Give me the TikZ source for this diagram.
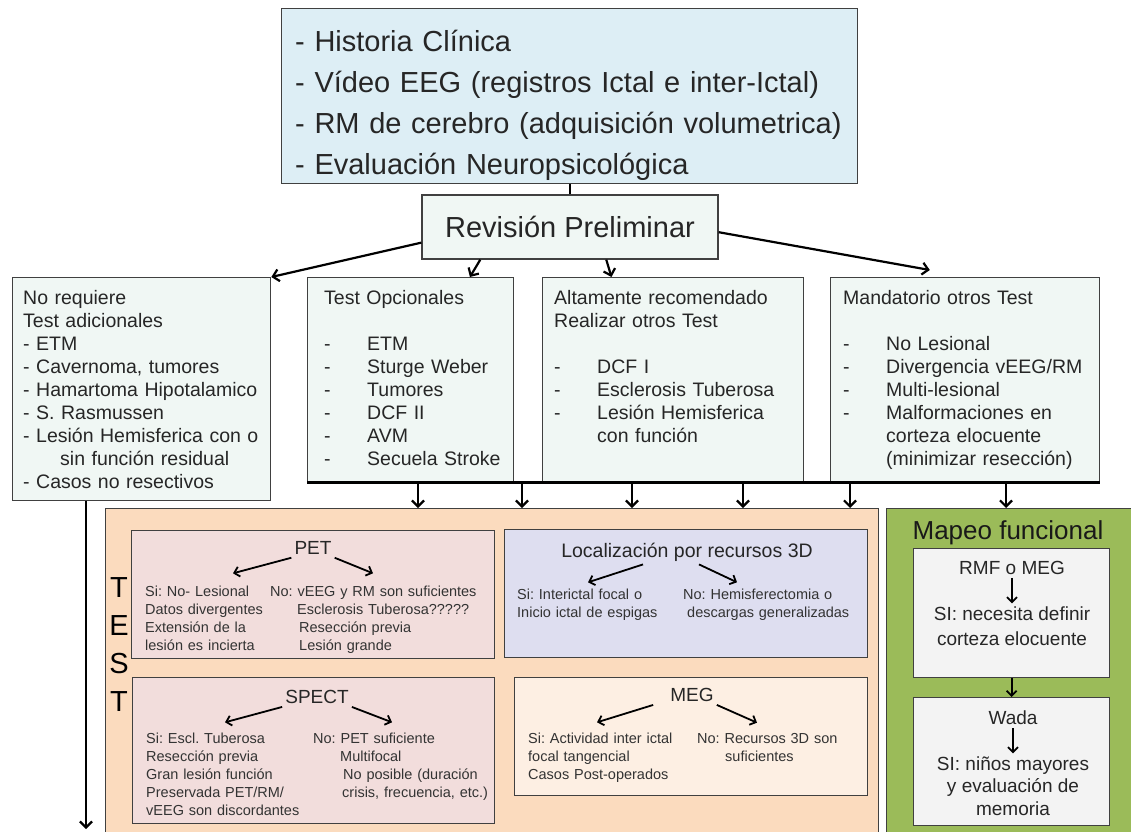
\documentclass[tikz,border=0pt]{standalone}
\usepackage{fontspec}
\setmainfont{Liberation Sans}
\usetikzlibrary{arrows.meta, positioning}
\frenchspacing

\definecolor{histblue}{RGB}{221,238,245}
\definecolor{paleteal}{RGB}{240,247,244}
\definecolor{peach}{RGB}{251,219,190}
\definecolor{rosebox}{RGB}{242,221,220}
\definecolor{lavbox}{RGB}{222,222,240}
\definecolor{creambox}{RGB}{253,239,227}
\definecolor{leafgreen}{RGB}{155,187,89}
\definecolor{softgray}{RGB}{243,243,243}
\definecolor{edge}{RGB}{64,64,64}

\newcommand{\itm}[1]{\makebox[43pt][l]{-}#1}

\begin{document}
\begin{tikzpicture}[x=1pt, y=-1pt,
    box/.style={draw=edge, line width=1.3pt, anchor=north west, inner sep=0pt},
    txt/.style={anchor=base west, inner sep=0pt, align=left, text=black!85},
    midtxt/.style={txt, font=\fontsize{19.5}{23}\selectfont},
    title/.style={inner sep=3pt, text=black!85, font=\fontsize{19}{23}\selectfont},
    note/.style={anchor=base west, inner sep=0pt, align=left, text width=215pt, text=black!80, font=\fontsize{14.5}{18}\selectfont},
    arrow/.style={-{Straight Barb[length=6pt, width=12pt]}, line width=2.2pt},
    tip/.style={-{Straight Barb[length=5pt, width=10pt]}, line width=1.8pt}
  ]
\useasboundingbox (0,0) rectangle (1131,831);

% Evaluacion inicial
\node[box, fill=histblue, minimum width=576pt, minimum height=175pt] (hist) at (281,8) {};
\node[txt, text width=560pt, font=\fontsize{29}{41}\selectfont] (histtxt) at (295,51)
  {- Historia Clínica\\- Vídeo EEG (registros Ictal e inter-Ictal)\\- RM de cerebro (adquisición volumetrica)\\- Evaluación Neuropsicológica};
\node[box, anchor=center, fill=paleteal, minimum width=296pt, minimum height=64pt, inner sep=3pt, text=black!85, font=\fontsize{29}{35}\selectfont] (rev) at (570,227) {Revisión Preliminar};
\draw[line width=1.5pt] (rev.north) -- (rev.north |- hist.south);

% Categorias
\node[box, fill=paleteal, minimum width=258pt, minimum height=223pt] (noreq) at (12,277) {};
\node[box, fill=paleteal, minimum width=206pt, minimum height=204pt] (opc) at (307,277) {};
\node[box, fill=paleteal, minimum width=261pt, minimum height=204pt] (alt) at (542,277) {};
\node[box, fill=paleteal, minimum width=269pt, minimum height=204pt] (mand) at (830,277) {};

\node[midtxt, text width=245pt] (noreqtxt) at (23,304)
  {No requiere\\Test adicionales\\- ETM\\- Cavernoma, tumores\\- Hamartoma Hipotalamico\\- S. Rasmussen\\- Lesión Hemisferica con o\\\hspace*{37pt}sin función residual\\- Casos no resectivos};
\node[midtxt, text width=185pt] (opctxt) at (324,304)
  {Test Opcionales\\[23pt]\itm{ETM}\\\itm{Sturge Weber}\\\itm{Tumores}\\\itm{DCF II}\\\itm{AVM}\\\itm{Secuela Stroke}};
\node[midtxt, text width=235pt] (alttxt) at (554,304)
  {Altamente recomendado\\Realizar otros Test\\[23pt]\itm{DCF I}\\\itm{Esclerosis Tuberosa}\\\itm{Lesión Hemisferica}\\\hspace*{43pt}con función};
\node[midtxt, text width=250pt] (mandtxt) at (843,304)
  {Mandatorio otros Test\\[23pt]\itm{No Lesional}\\\itm{Divergencia vEEG/RM}\\\itm{Multi-lesional}\\\itm{Malformaciones en}\\\hspace*{43pt}corteza elocuente\\\hspace*{43pt}(minimizar resección)};

\draw[arrow] (rev.186) -- (noreq.north east);
\draw[arrow] (rev.200) -- (opc.60);
\draw[arrow] (rev.318) -- (alt.121);
\draw[arrow] (rev.358) -- ([yshift=7pt]mand.109);

% Zonas de test
\node[box, fill=peach, minimum width=773pt, minimum height=340pt] (test) at (105,508) {};
\node[box, fill=leafgreen, minimum width=260pt, minimum height=340pt] (mapeo) at (886,508) {};

\draw[line width=2.4pt] (opc.south west) -- (mand.south east);
\foreach \x [count=\i] in {418,522,632,743,850} {
  \coordinate (drop\i) at (\x,481);
  \draw[arrow] (drop\i) -- (drop\i |- test.north);
}
\coordinate (drop6) at (1006,481);
\draw[arrow] (drop6) -- (drop6 |- mapeo.north);
\coordinate (exit) at (86,829);
\draw[arrow] (noreq.south -| exit) -- (exit);

\node[align=center, text width=30pt, anchor=base, inner sep=0pt, font=\fontsize{29}{38}\selectfont] (testlbl) at (119,597) {T\\E\\S\\T};

% PET
\node[box, fill=rosebox, minimum width=363pt, minimum height=128pt] (petbox) at (131,530) {};
\node[title] (pet) at (313,548) {PET};
\node[note] (petsi) at (145,596) {Si: No- Lesional\\Datos divergentes\\Extensión de la\\lesión es incierta};
\node[note] (petno) at (270,596) {No: vEEG y RM son suficientes\\\hspace*{27pt}Esclerosis Tuberosa?????\\\hspace*{29pt}Resección previa\\\hspace*{29pt}Lesión grande};
\draw[tip] (pet.south west) -- ([xshift=88pt, yshift=12pt]petsi.north west);
\draw[tip] (pet.south east) -- ([xshift=103pt, yshift=12pt]petno.north west);

% Localizacion 3D
\node[box, fill=lavbox, minimum width=363pt, minimum height=128pt] (locbox) at (504,529) {};
\node[title, font=\fontsize{19.5}{23}\selectfont] (loc) at (687,552) {Localización por recursos 3D};
\node[note] (locsi) at (517,599) {Si: Interictal focal o\\Inicio ictal de espigas};
\node[note] (locno) at (683,599) {No: Hemisferectomia o\\\hspace*{4pt}descargas generalizadas};
\draw[tip] ([xshift=-44pt]loc.south) -- ([xshift=71pt, yshift=6pt]locsi.north west);
\draw[tip] ([xshift=12pt]loc.south) -- ([xshift=54pt, yshift=6pt]locno.north west);

% SPECT
\node[box, fill=rosebox, minimum width=362pt, minimum height=146pt] (spectbox) at (132,677) {};
\node[title] (spect) at (317,697) {SPECT};
\node[note] (spectsi) at (146,743) {Si: Escl. Tuberosa\\Resección previa\\Gran lesión función\\Preservada PET/RM/\\vEEG son discordantes};
\node[note] (spectno) at (313,743) {No: PET suficiente\\\hspace*{27pt}Multifocal\\\hspace*{30pt}No posible (duración\\\hspace*{29pt}crisis, frecuencia, etc.)};
\draw[tip] (spect.south west) -- ([xshift=79pt, yshift=10pt]spectsi.north west);
\draw[tip] (spect.south east) -- ([xshift=79pt, yshift=10pt]spectno.north west);

% MEG
\node[box, fill=creambox, minimum width=353pt, minimum height=118pt] (megbox) at (514,677) {};
\node[title] (meg) at (692,695) {MEG};
\node[note] (megsi) at (528,743) {Si: Actividad inter ictal\\focal tangencial\\Casos Post-operados};
\node[note] (megno) at (697,743) {No: Recursos 3D son\\\hspace*{28pt}suficientes};
\draw[tip] ([xshift=-14pt]meg.south west) -- ([xshift=69pt, yshift=10pt]megsi.north west);
\draw[tip] (meg.south east) -- ([xshift=60pt, yshift=10pt]megno.north west);

% Mapeo funcional
\node[text=black!90, inner sep=0pt, font=\fontsize{26}{30}\selectfont] (mapeotitle) at (1008,533) {Mapeo funcional};
\node[box, fill=softgray, minimum width=196pt, minimum height=129pt] (rmfbox) at (913,548) {};
\node[box, fill=softgray, minimum width=196pt, minimum height=128pt] (wadabox) at (913,697) {};
\node[title] (rmf) at (1012,568) {RMF o MEG};
\node[title, align=center, font=\fontsize{19}{25}\selectfont] (nec) at (1012,626) {SI: necesita definir\\corteza elocuente};
\draw[tip] (rmf.south) -- (nec.north);
\draw[tip] (rmfbox.south) -- (wadabox.north);
\node[title] (wada) at (1013,718) {Wada};
\node[title, align=center, font=\fontsize{19}{22.5}\selectfont] (nin) at (1013,786) {SI: niños mayores\\y evaluación de\\memoria};
\draw[tip] (wada.south) -- (nin.north);

\end{tikzpicture}
\end{document}
